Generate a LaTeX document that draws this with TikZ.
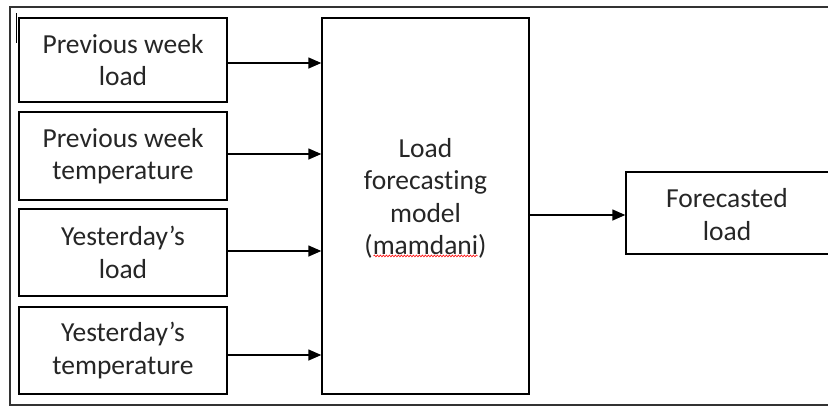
\documentclass[tikz,border=0pt]{standalone}
\usepackage{fontspec}
\setmainfont{Carlito}[Ligatures={NoCommon}]
\usetikzlibrary{arrows.meta,decorations.pathmorphing}
\begin{document}
\begin{tikzpicture}[x=1pt,y=-1pt,
  boxline/.style={draw=black,line width=1.4pt},
  inbox/.style={boxline,minimum width=208pt,inner sep=0pt,align=center,
    text=black!85,font=\fontsize{27.5}{32.5}\selectfont},
  txt/.style={inner sep=0pt,align=center,text=black!85,font=\fontsize{27.5}{32.5}\selectfont},
  arr/.style={line width=1.4pt,-{Triangle[length=13pt,width=11pt]}}]
\useasboundingbox (0,0) rectangle (828,408);
% outer frame (right side lies beyond the picture)
\draw[line width=1.6pt,draw=black!80] (845,7) -- (10,7) -- (10,405) -- (845,405);
% text cursor mark
\draw[line width=1pt] (16,13) -- (16,43);
% input boxes
\node[inbox,minimum height=84pt] (b1) at (123,60) {Previous week\\load};
\node[inbox,minimum height=88pt] (b2) at (123,156) {Previous week\\temperature};
\node[inbox,minimum height=87pt] (b3) at (123,252.5) {Yesterday’s\\load};
\node[inbox,minimum height=87pt] (b4) at (123,350.5) {Yesterday’s\\temperature};
% model box
\node[boxline,minimum width=207pt,minimum height=376pt,inner sep=0pt] (m) at (425.5,206) {};
\node[txt] (mt) at (425.5,198.5) {Load\\forecasting\\model\\(mamdani)};
\draw[red,line width=0.6pt,decorate,
  decoration={snake,amplitude=0.9pt,segment length=3pt}]
  ([xshift=-52pt,yshift=3pt]mt.south) -- ([xshift=52pt,yshift=3pt]mt.south);
% output box (right side lies beyond the picture)
\node[boxline,minimum width=206pt,minimum height=82pt,inner sep=0pt] (o) at (729,213) {};
\node[txt] (ot) at (727,214.5) {Forecasted\\load};
% connectors
\draw[arr] ([yshift=-3pt]b1.east) -- ([yshift=-3pt]b1.east -| m.west);
\draw[arr] ([yshift=2pt]b2.east) -- ([yshift=2pt]b2.east -| m.west);
\draw[arr] ([yshift=1.5pt]b3.east) -- ([yshift=1.5pt]b3.east -| m.west);
\draw[arr] ([yshift=-4.5pt]b4.east) -- ([yshift=-4.5pt]b4.east -| m.west);
\draw[arr] ([yshift=-9pt]m.east) -- ([yshift=-9pt]m.east -| o.west);
\end{tikzpicture}
\end{document}
